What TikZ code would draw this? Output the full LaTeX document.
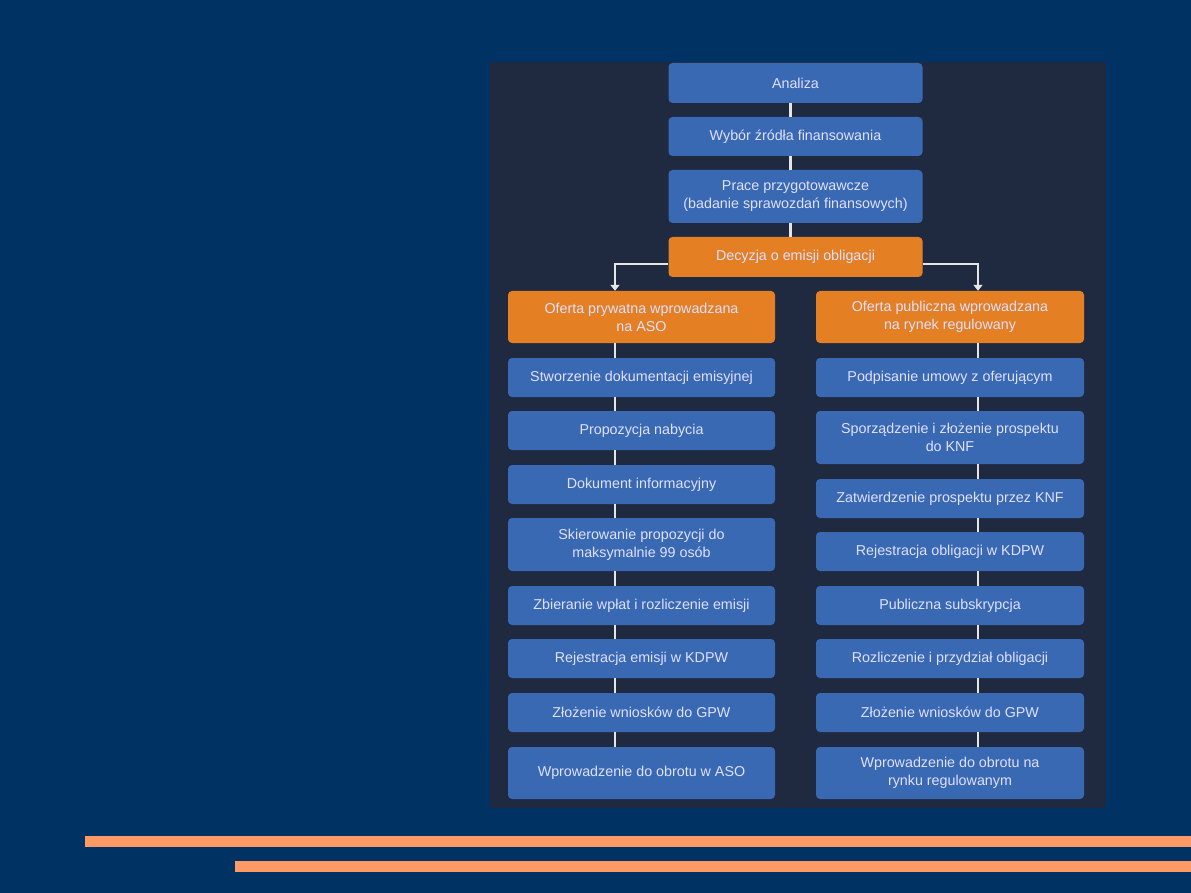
\documentclass[tikz,border=0pt]{standalone}
\usepackage{fontspec}
\setmainfont{Liberation Sans}
\usetikzlibrary{arrows.meta}
\definecolor{tlo}{RGB}{1,50,100}
\definecolor{panel}{RGB}{31,42,64}
\definecolor{niebieski}{RGB}{57,105,178}
\definecolor{pomarancz}{RGB}{228,127,36}
\definecolor{pasek}{RGB}{255,153,102}
\tikzset{
  box/.style={rounded corners=4pt, text=white!88!blue, align=center,
    font=\fontsize{14.3}{18}\selectfont, inner sep=0pt},
  niebieska/.style={box, fill=niebieski},
  pomaranczowa/.style={box, fill=pomarancz},
  polaczenie/.style={draw=gray!20, line width=2.5pt},
}
\begin{document}
\begin{tikzpicture}[x=1pt, y=-1pt]
    % tlo, panel i paski
    \fill[tlo] (0,0) rectangle (1191,893);
    \fill[panel] (490,62) rectangle (1106,808);
    \fill[pasek] (85,836) rectangle (1191,847);
    \fill[pasek] (235,861) rectangle (1191,872);
    % kolumna srodkowa
    \node[niebieska, minimum width=254pt, minimum height=40pt] (a1) at (795.5,83) {Analiza};
    \node[niebieska, minimum width=254pt, minimum height=39pt] (a2) at (795.5,136.5) {Wybór źródła finansowania};
    \node[niebieska, minimum width=254pt, minimum height=53pt] (a3) at (795.5,196.5) {Prace przygotowawcze\\(badanie sprawozdań finansowych)};
    \node[pomaranczowa, minimum width=254pt, minimum height=40pt] (a4) at (795.5,257) {Decyzja o emisji obligacji};
    % kolumna lewa
    \node[pomaranczowa, minimum width=267pt, minimum height=52pt] (l0) at (641.5,317) {Oferta prywatna wprowadzana\\na ASO};
    \node[niebieska, minimum width=267pt, minimum height=39pt] (l1) at (641.5,377.5) {Stworzenie dokumentacji emisyjnej};
    \node[niebieska, minimum width=267pt, minimum height=39pt] (l2) at (641.5,430.5) {Propozycja nabycia};
    \node[niebieska, minimum width=267pt, minimum height=39pt] (l3) at (641.5,484.5) {Dokument informacyjny};
    \node[niebieska, minimum width=267pt, minimum height=53pt] (l4) at (641.5,544.5) {Skierowanie propozycji do\\maksymalnie 99 osób};
    \node[niebieska, minimum width=267pt, minimum height=39pt] (l5) at (641.5,605.5) {Zbieranie wpłat i rozliczenie emisji};
    \node[niebieska, minimum width=267pt, minimum height=39pt] (l6) at (641.5,658.5) {Rejestracja emisji w KDPW};
    \node[niebieska, minimum width=267pt, minimum height=39pt] (l7) at (641.5,712.5) {Złożenie wniosków do GPW};
    \node[niebieska, minimum width=267pt, minimum height=52pt] (l8) at (641.5,773) {Wprowadzenie do obrotu w ASO};
    % kolumna prawa
    \node[pomaranczowa, minimum width=268pt, minimum height=52pt] (r0) at (950,317) {Oferta publiczna wprowadzana\\na rynek regulowany};
    \node[niebieska, minimum width=268pt, minimum height=39pt] (r1) at (950,377.5) {Podpisanie umowy z oferującym};
    \node[niebieska, minimum width=268pt, minimum height=53pt] (r2) at (950,437.5) {Sporządzenie i złożenie prospektu\\do KNF};
    \node[niebieska, minimum width=268pt, minimum height=39pt] (r3) at (950,498.5) {Zatwierdzenie prospektu przez KNF};
    \node[niebieska, minimum width=268pt, minimum height=39pt] (r4) at (950,551.5) {Rejestracja obligacji w KDPW};
    \node[niebieska, minimum width=268pt, minimum height=39pt] (r5) at (950,605.5) {Publiczna subskrypcja};
    \node[niebieska, minimum width=268pt, minimum height=39pt] (r6) at (950,658.5) {Rozliczenie i przydział obligacji};
    \node[niebieska, minimum width=268pt, minimum height=39pt] (r7) at (950,712.5) {Złożenie wniosków do GPW};
    \node[niebieska, minimum width=268pt, minimum height=52pt] (r8) at (950,773) {Wprowadzenie do obrotu na\\rynku regulowanym};
    % polaczenia
    \foreach \i/\j in {a1/a2, a2/a3, a3/a4}
        \draw[polaczenie] ([xshift=-5pt]\i.south) -- ([xshift=-5pt]\j.north);
    \foreach \i/\j in {l0/l1, l1/l2, l2/l3, l3/l4, l4/l5, l5/l6, l6/l7, l7/l8}
        \draw[polaczenie] ([xshift=-26.5pt]\i.south) -- ([xshift=-26.5pt]\j.north);
    \foreach \i/\j in {r0/r1, r1/r2, r2/r3, r3/r4, r4/r5, r5/r6, r6/r7, r7/r8}
        \draw[polaczenie] ([xshift=28pt]\i.south) -- ([xshift=28pt]\j.north);
    % rozgalezienie
    \draw[polaczenie, -{Triangle[width=9pt, length=6pt]}] ([yshift=-7pt]a4.west) -| ([xshift=-26.5pt]l0.north);
    \draw[polaczenie, -{Triangle[width=9pt, length=6pt]}] ([yshift=-7pt]a4.east) -| ([xshift=28pt]r0.north);
\end{tikzpicture}
\end{document}
